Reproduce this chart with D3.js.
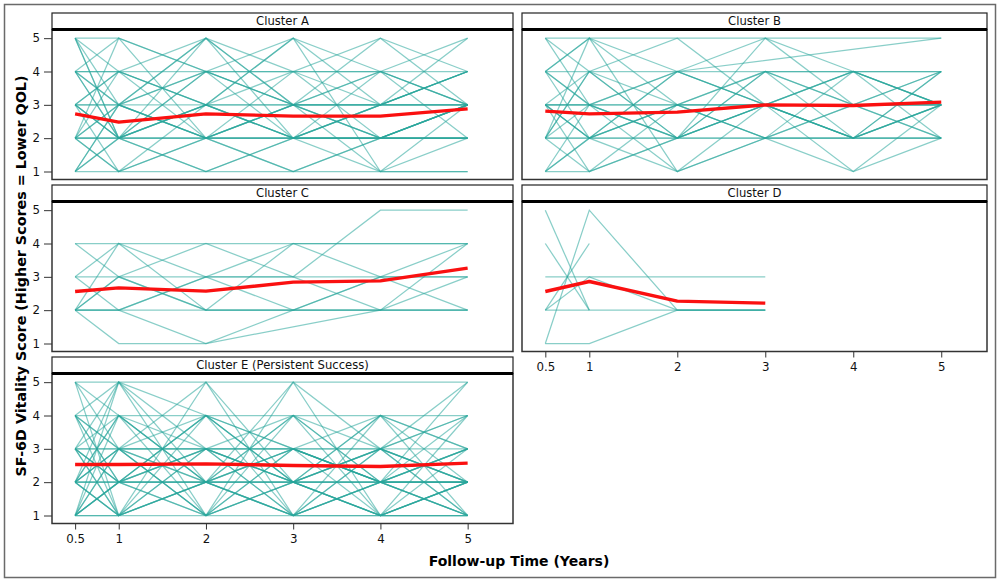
<!DOCTYPE html>
<html>
<head>
<meta charset="utf-8">
<script src="https://cdn.jsdelivr.net/npm/d3@7"></script>
<style>
  html, body { margin: 0; padding: 0; background: #fff; }
  svg { display: block; font-family: "DejaVu Sans", sans-serif; }
</style>
</head>
<body>
<svg id="chart" width="1000" height="582"></svg>
<script>
// ---------------- data ----------------
const years = [0.5, 1, 2, 3, 4, 5];
const yTicks = [1, 2, 3, 4, 5];
const clusterNames = ["Cluster A", "Cluster B", "Cluster C", "Cluster D", "Cluster E (Persistent Success)"];
const xTitle = "Follow-up Time (Years)";
const yTitle = "SF-6D Vitality Score (Higher Scores = Lower QOL)";

// individual trajectories (values at years 0.5,1,2,3,4,5; null = not observed)
const trajA = [
  [5,4,3,3,2,3],[4,2,3,2,3,4],[3,3,2,3,2,3],[2,1,2,1,2,2],[1,2,1,2,1,1],
  [1,1,1,1,1,1],[5,3,5,3,4,5],[4,5,4,2,3,3],[3,2,4,4,3,4],[2,3,2,3,4,3],
  [3,1,3,2,2,2],[2,2,3,5,4,3],[4,3,2,2,3,3],[3,4,3,4,2,2],[2,1,2,2,2,3],
  [1,3,2,3,3,4],[3,2,2,1,2,2],[2,2,1,2,2,3],[5,2,4,3,5,4],[3,3,3,3,3,3],
  [2,2,2,2,2,2],[4,4,4,4,4,4],[1,2,3,2,2,3],[3,2,5,3,3,3],[2,4,3,5,1,2],
  [4,3,4,3,3,5],[5,5,4,5,3,4],[4,4,5,4,5,3],[1,3,4,3,2,2],[2,5,2,2,3,4],
  [3,4,2,4,4,3],[5,2,3,2,2,3],[2,3,5,2,4,2],[4,2,2,3,1,3]
];
const trajB = [
  [5,5,5,5,null,5],[4,5,3,4,3,3],[3,2,4,3,2,3],[2,1,2,3,4,3],[1,2,3,2,3,2],
  [5,3,2,5,3,4],[4,4,4,4,4,4],[3,3,3,3,3,3],[2,2,2,2,2,2],[4,2,1,2,3,3],
  [3,4,2,3,2,3],[2,3,4,5,4,3],[1,1,2,2,1,2],[3,1,3,4,3,4],[2,5,1,3,2,3],
  [4,3,3,2,4,3],[3,2,4,null,null,5],[2,4,3,3,3,2],[3,3,1,2,2,3],[1,2,2,4,4,4],
  [3,3,4,3,3,3],[2,2,3,2,2,2],[4,5,4,3,4,2],[2,4,5,3,2,4],[5,4,2,3,4,3],
  [1,3,2,3,1,3],[3,2,3,3,2,4],[4,3,2,4,2,2]
];
const trajC = [
  [4,4,4,4,4,4],[4,3,4,3,3,4],[3,4,3,3,5,5],[2,4,2,2,2,3],[3,2,3,2,3,2],
  [2,3,2,4,3,3],[2,1,1,2,2,4],[3,3,3,4,4,4],[2,2,1,null,2,2],[2,2,2,2,2,2],
  [2,3,2,2,3,3],[2,2,3,3,2,2]
];
const trajD = [
  [5,2,null,null,null,null],[4,2,null,null,null,null],[1,5,2,2,null,null],
  [1,1,2,2,null,null],[2,4,null,null,null,null],[2,3,2,2,null,null],
  [3,3,3,3,null,null],[2,2,2,2,null,null]
];
const trajE = [
  [5,4,3,2,1,2],[4,5,2,1,2,3],[3,2,4,3,2,1],[2,1,3,4,3,2],[1,3,1,2,4,3],
  [5,1,2,3,2,1],[4,3,5,1,2,2],[3,5,1,2,3,4],[2,4,2,5,1,2],[1,2,4,2,3,5],
  [2,3,3,1,2,3],[3,1,2,2,4,2],[1,1,1,1,1,1],[2,2,2,2,2,2],[3,3,3,3,3,3],
  [4,4,4,4,4,4],[5,5,5,5,5,5],[2,1,2,1,2,1],[1,2,3,1,1,2],[2,5,3,2,1,2],
  [3,2,1,3,2,2],[4,2,3,2,3,1],[1,3,2,4,2,2],[2,2,1,2,1,1],[3,4,2,2,3,4],
  [1,4,2,3,2,3],[2,3,4,2,2,1],[4,1,3,3,4,3],[3,2,2,1,3,2],[1,1,5,2,2,5],
  [2,2,4,3,1,2],[5,3,1,4,2,3],[2,1,2,3,3,2],[3,3,2,2,2,4],[1,2,2,1,4,1],
  [4,3,3,2,1,3],[2,4,1,3,2,2],[1,5,4,1,3,1],[3,1,4,2,1,4],[2,3,1,5,3,2],
  [4,2,2,4,1,1],[1,2,3,3,2,2]
];

// cluster mean trajectories (red lines)
const meanA = [2.73, 2.48, 2.73, 2.66, 2.66, 2.88];
const meanB = [2.81, 2.73, 2.78, 3.00, 2.98, 3.08];
const meanC = [2.56, 2.67, 2.57, 2.84, 2.88, 3.26];
const meanD = [2.56, 2.86, 2.27, 2.21, null, null];
const meanE = [2.53, 2.53, 2.55, 2.50, 2.47, 2.57];

// ---------------- layout ----------------
const panels = [
  { name: clusterNames[0], traj: trajA, mean: meanA, col: 0, row: 0, yAxis: true,  xAxis: false },
  { name: clusterNames[1], traj: trajB, mean: meanB, col: 1, row: 0, yAxis: false, xAxis: false },
  { name: clusterNames[2], traj: trajC, mean: meanC, col: 0, row: 1, yAxis: true,  xAxis: false },
  { name: clusterNames[3], traj: trajD, mean: meanD, col: 1, row: 1, yAxis: false, xAxis: true },
  { name: clusterNames[4], traj: trajE, mean: meanE, col: 0, row: 2, yAxis: true,  xAxis: true }
];
const colX = [52, 522];
const colW = [461, 465];
const rowTop = [13, 185, 357];
const headerH = 16.5;
const plotH = 150;

const svg = d3.select("#chart");

svg.append("rect")
  .attr("x", 4.5).attr("y", 4.5).attr("width", 991).attr("height", 573)
  .attr("fill", "none").attr("stroke", "#6a6a6a").attr("stroke-width", 1.5);

const teal = "#28A59B";

panels.forEach(p => {
  const x0 = colX[p.col], w = colW[p.col];
  const top = rowTop[p.row];
  const pTop = top + headerH, pBot = pTop + plotH;

  const x = d3.scaleLinear().domain([0.235, 5.52]).range([x0, x0 + w]);
  const y = d3.scaleLinear().domain([0.76, 5.26]).range([pBot, pTop]);

  const g = svg.append("g");

  // header box
  g.append("rect").attr("x", x0).attr("y", top).attr("width", w).attr("height", headerH)
    .attr("fill", "#fff").attr("stroke", "#222").attr("stroke-width", 1.2);
  g.append("text").attr("x", x0 + w / 2).attr("y", top + headerH / 2 + 4.2)
    .attr("text-anchor", "middle").attr("font-size", "11.6px").attr("fill", "#111")
    .text(p.name);

  // spaghetti lines
  const line = d3.line().x(d => x(d[0])).y(d => y(d[1]));
  const lg = g.append("g");
  p.traj.forEach(t => {
    const pts = years.map((yr, i) => [yr, t[i]]).filter(d => d[1] != null);
    lg.append("path").attr("d", line(pts)).attr("fill", "none")
      .attr("stroke", teal).attr("stroke-opacity", 0.55).attr("stroke-width", 1.25);
  });

  // mean line
  const mpts = years.map((yr, i) => [yr, p.mean[i]]).filter(d => d[1] != null);
  g.append("path").attr("d", line(mpts)).attr("fill", "none")
    .attr("stroke", "#FA1010").attr("stroke-width", 3.4).attr("stroke-linejoin", "round");

  // plot frame
  g.append("rect").attr("x", x0).attr("y", pTop).attr("width", w).attr("height", plotH)
    .attr("fill", "none").attr("stroke", "#333").attr("stroke-width", 1.5);
  g.append("line").attr("x1", x0).attr("x2", x0 + w).attr("y1", pTop).attr("y2", pTop)
    .attr("stroke", "#000").attr("stroke-width", 3);

  if (p.yAxis) {
    const ax = g.append("g").attr("transform", `translate(${x0},0)`)
      .call(d3.axisLeft(y).tickValues(yTicks).tickSize(8).tickPadding(4).tickFormat(d3.format("d")));
    ax.select(".domain").remove();
    ax.selectAll("line").attr("stroke", "#333");
    ax.selectAll("text").attr("font-size", "11.8px").attr("fill", "#111")
      .attr("font-family", "DejaVu Sans, sans-serif");
  }
  if (p.xAxis) {
    const ax = g.append("g").attr("transform", `translate(0,${pBot})`)
      .call(d3.axisBottom(x).tickValues(years).tickSize(6).tickPadding(5).tickFormat(d => String(d)));
    ax.select(".domain").remove();
    ax.selectAll("line").attr("stroke", "#333");
    ax.selectAll("text").attr("font-size", "11.8px").attr("fill", "#111")
      .attr("font-family", "DejaVu Sans, sans-serif");
  }
});

// axis titles
svg.append("text").attr("x", 519).attr("y", 566).attr("text-anchor", "middle")
  .attr("font-size", "14px").attr("font-weight", "bold").attr("fill", "#000").text(xTitle);
svg.append("text").attr("transform", "translate(26,276) rotate(-90)")
  .attr("text-anchor", "middle").attr("font-size", "14.3px").attr("font-weight", "bold")
  .attr("fill", "#000").text(yTitle);
</script>
</body>
</html>
